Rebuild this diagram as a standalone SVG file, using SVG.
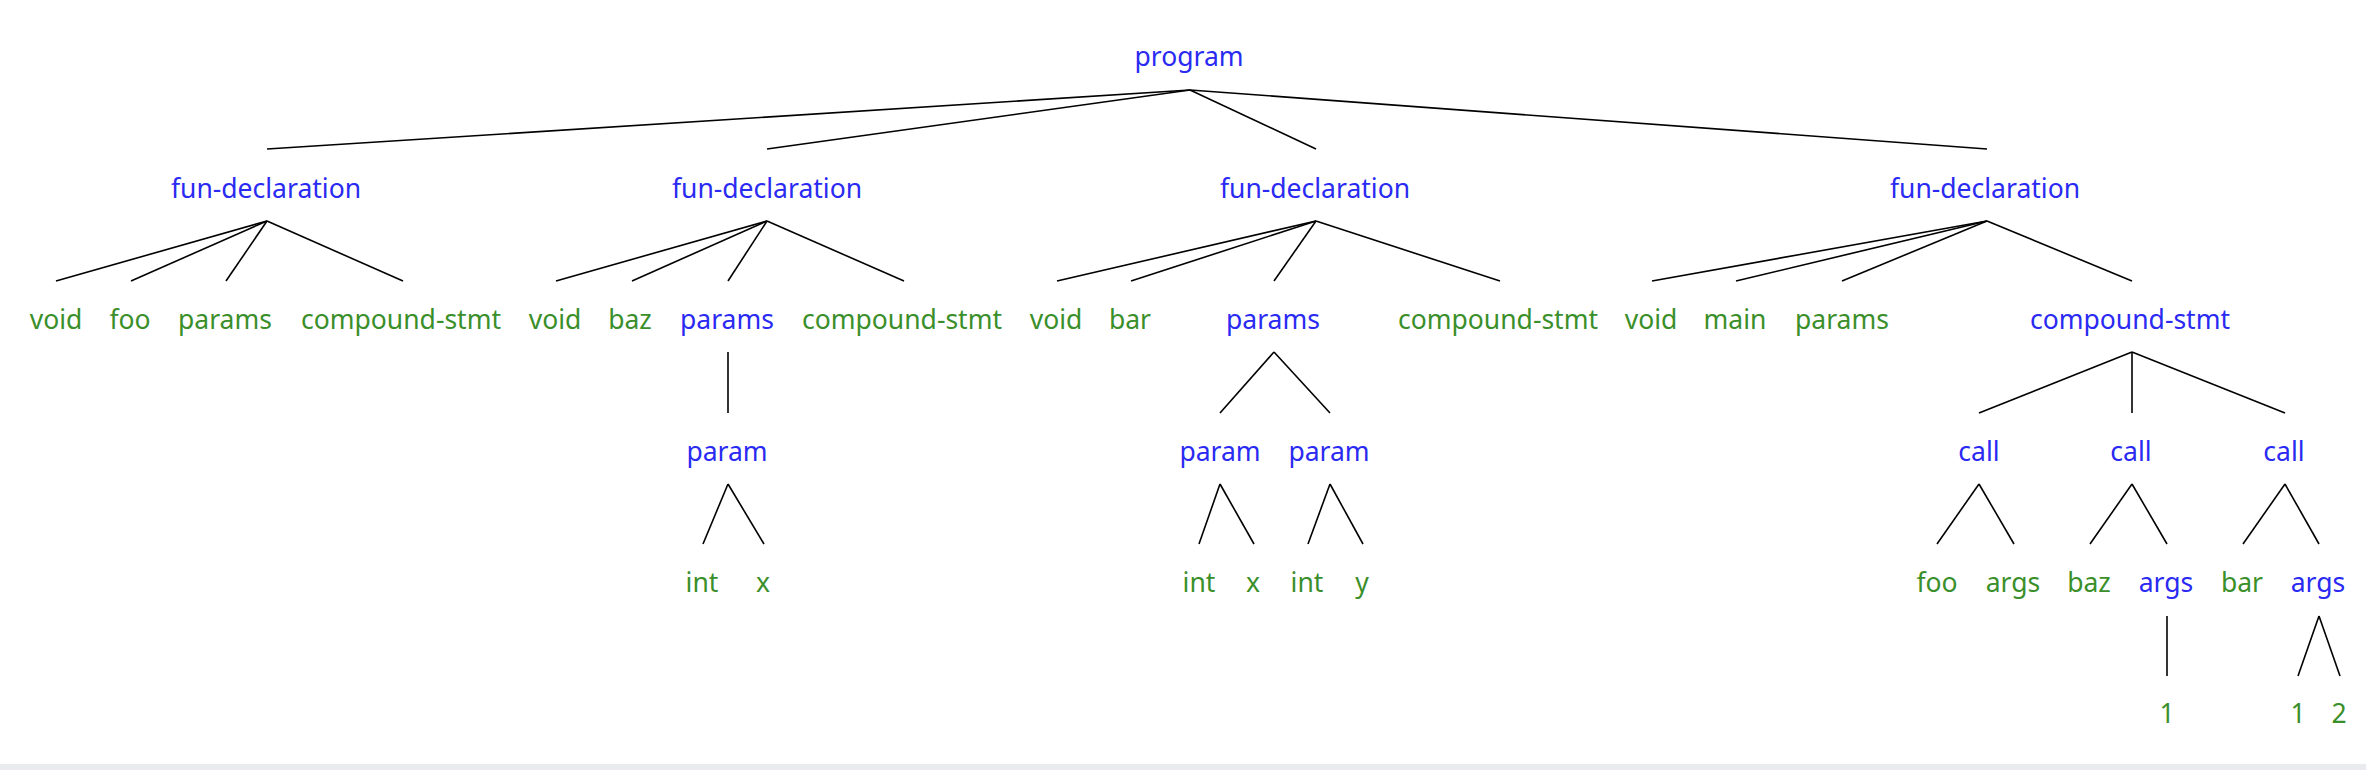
<svg xmlns="http://www.w3.org/2000/svg" width="2366" height="770" viewBox="0 0 2366 770">
<style>
text{font-family:"Noto Sans","Open Sans","DejaVu Sans",sans-serif;font-size:26.5px;text-anchor:middle}
.n{fill:#2a2af2}
.t{fill:#3a8f2a}
.e line{stroke:#000;stroke-width:1.6}
</style>
<rect x="0" y="0" width="2366" height="770" fill="#fff"/>
<rect x="0" y="764" width="2366" height="6" fill="#e9ebef"/>
<g id="connectors" class="e">
<line x1="1190" y1="90" x2="267" y2="149"/>
<line x1="1190" y1="90" x2="767" y2="149"/>
<line x1="1190" y1="90" x2="1316" y2="149"/>
<line x1="1190" y1="90" x2="1987" y2="149"/>
<line x1="267" y1="221" x2="56" y2="281"/>
<line x1="267" y1="221" x2="131" y2="281"/>
<line x1="267" y1="221" x2="226" y2="281"/>
<line x1="267" y1="221" x2="403" y2="281"/>
<line x1="767" y1="221" x2="556" y2="281"/>
<line x1="767" y1="221" x2="632" y2="281"/>
<line x1="767" y1="221" x2="728" y2="281"/>
<line x1="767" y1="221" x2="904" y2="281"/>
<line x1="1316" y1="221" x2="1057" y2="281"/>
<line x1="1316" y1="221" x2="1131" y2="281"/>
<line x1="1316" y1="221" x2="1274" y2="281"/>
<line x1="1316" y1="221" x2="1500" y2="281"/>
<line x1="1987" y1="221" x2="1652" y2="281"/>
<line x1="1987" y1="221" x2="1736" y2="281"/>
<line x1="1987" y1="221" x2="1842" y2="281"/>
<line x1="1987" y1="221" x2="2132" y2="281"/>
<line x1="728" y1="352" x2="728" y2="413"/>
<line x1="1274" y1="352" x2="1220" y2="413"/>
<line x1="1274" y1="352" x2="1330" y2="413"/>
<line x1="2132" y1="352" x2="1979" y2="413"/>
<line x1="2132" y1="352" x2="2132" y2="413"/>
<line x1="2132" y1="352" x2="2285" y2="413"/>
<line x1="728" y1="484" x2="703" y2="544"/>
<line x1="728" y1="484" x2="764" y2="544"/>
<line x1="1220" y1="484" x2="1199" y2="544"/>
<line x1="1220" y1="484" x2="1254" y2="544"/>
<line x1="1330" y1="484" x2="1308" y2="544"/>
<line x1="1330" y1="484" x2="1363" y2="544"/>
<line x1="1979" y1="484" x2="1937" y2="544"/>
<line x1="1979" y1="484" x2="2014" y2="544"/>
<line x1="2132" y1="484" x2="2090" y2="544"/>
<line x1="2132" y1="484" x2="2167" y2="544"/>
<line x1="2285" y1="484" x2="2243" y2="544"/>
<line x1="2285" y1="484" x2="2319" y2="544"/>
<line x1="2167" y1="616" x2="2167" y2="676"/>
<line x1="2319" y1="616" x2="2298" y2="676"/>
<line x1="2319" y1="616" x2="2340" y2="676"/>
</g>
<g id="program"><text class="n" x="1189" y="66">program</text></g>
<g id="fd1"><text class="n" x="266" y="198">fun-declaration</text></g>
<g id="fd2"><text class="n" x="767" y="198">fun-declaration</text></g>
<g id="fd3"><text class="n" x="1315" y="198">fun-declaration</text></g>
<g id="fd4"><text class="n" x="1985" y="198">fun-declaration</text></g>
<g id="fd1-void"><text class="t" x="56" y="329">void</text></g>
<g id="fd1-foo"><text class="t" x="130" y="329">foo</text></g>
<g id="fd1-params"><text class="t" x="225" y="329">params</text></g>
<g id="fd1-body"><text class="t" x="401" y="329">compound-stmt</text></g>
<g id="fd2-void"><text class="t" x="555" y="329">void</text></g>
<g id="fd2-baz"><text class="t" x="630" y="329">baz</text></g>
<g id="fd2-params"><text class="n" x="727" y="329">params</text></g>
<g id="fd2-body"><text class="t" x="902" y="329">compound-stmt</text></g>
<g id="fd3-void"><text class="t" x="1056" y="329">void</text></g>
<g id="fd3-bar"><text class="t" x="1130" y="329">bar</text></g>
<g id="fd3-params"><text class="n" x="1273" y="329">params</text></g>
<g id="fd3-body"><text class="t" x="1498" y="329">compound-stmt</text></g>
<g id="fd4-void"><text class="t" x="1651" y="329">void</text></g>
<g id="fd4-main"><text class="t" x="1735" y="329">main</text></g>
<g id="fd4-params"><text class="t" x="1842" y="329">params</text></g>
<g id="fd4-body"><text class="n" x="2130" y="329">compound-stmt</text></g>
<g id="baz-param"><text class="n" x="727" y="461">param</text></g>
<g id="bar-param1"><text class="n" x="1220" y="461">param</text></g>
<g id="bar-param2"><text class="n" x="1329" y="461">param</text></g>
<g id="call1"><text class="n" x="1979" y="461">call</text></g>
<g id="call2"><text class="n" x="2131" y="461">call</text></g>
<g id="call3"><text class="n" x="2284" y="461">call</text></g>
<g id="baz-int"><text class="t" x="702" y="592">int</text></g>
<g id="baz-x"><text class="t" x="763" y="592">x</text></g>
<g id="bar-int1"><text class="t" x="1199" y="592">int</text></g>
<g id="bar-x"><text class="t" x="1253" y="592">x</text></g>
<g id="bar-int2"><text class="t" x="1307" y="592">int</text></g>
<g id="bar-y"><text class="t" x="1362" y="592">y</text></g>
<g id="call1-foo"><text class="t" x="1937" y="592">foo</text></g>
<g id="call1-args"><text class="t" x="2013" y="592">args</text></g>
<g id="call2-baz"><text class="t" x="2089" y="592">baz</text></g>
<g id="call2-args"><text class="n" x="2166" y="592">args</text></g>
<g id="call3-bar"><text class="t" x="2242" y="592">bar</text></g>
<g id="call3-args"><text class="n" x="2318" y="592">args</text></g>
<g id="arg-1a"><text class="t" x="2167" y="723">1</text></g>
<g id="arg-1b"><text class="t" x="2298" y="723">1</text></g>
<g id="arg-2"><text class="t" x="2339" y="723">2</text></g>
</svg>
